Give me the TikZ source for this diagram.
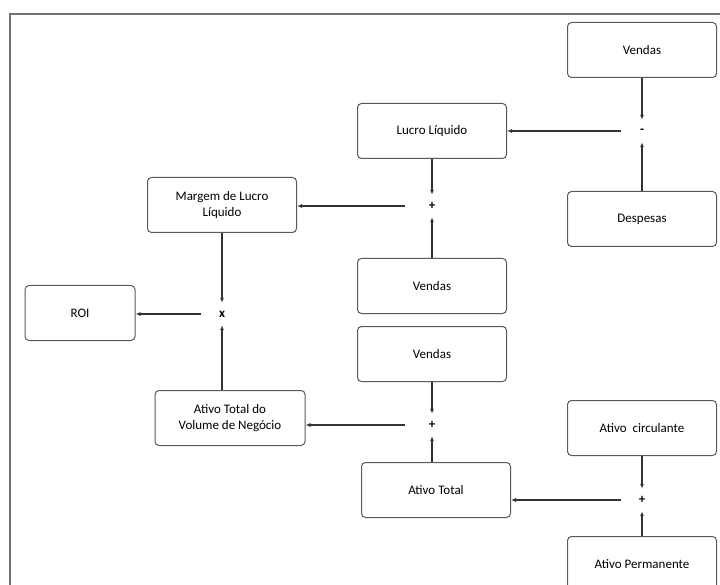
\documentclass[tikz,border=0pt]{standalone}
\usepackage{fontspec}
\setmainfont{Carlito}
\usetikzlibrary{arrows.meta}
\tikzset{
  caixa/.style={draw=black!65,line width=1pt,rounded corners=4pt,minimum width=149pt,minimum height=55pt,
    align=center,font=\fontsize{13}{16}\selectfont,inner sep=2pt},
  oper/.style={circle,minimum size=22pt,inner sep=0pt,font=\fontsize{13}{14}\selectfont\bfseries},
  seta/.style={-{Latex[length=5pt,width=4pt]},line width=1.3pt,black!80},
}
\begin{document}
\begin{tikzpicture}[x=1pt,y=-1pt]
  \useasboundingbox (0,0) rectangle (720,585);
  \draw[black!55,line width=1.2pt](10,14) rectangle (740,600);
  % caixas
  \node[caixa] (vendasA) at (642,50){Vendas};
  \node[caixa] (lucro) at (432,131){Lucro Líquido};
  \node[caixa] (despesas) at (642,219){Despesas};
  \node[caixa] (margem) at (222,205){Margem de Lucro\\Líquido};
  \node[caixa] (vendasB) at (432,286){Vendas};
  \node[caixa,minimum width=110pt] (roi) at (80,313){ROI};
  \node[caixa] (vendasC) at (432,354){Vendas};
  \node[caixa,minimum width=150pt] (giro) at (230,418){Ativo Total do\\Volume de Negócio};
  \node[caixa] (ativoT) at (436,490){Ativo Total};
  \node[caixa] (circ) at (642,428){Ativo\ \ circulante};
  \node[caixa] (perm) at (642,564){Ativo Permanente};
  % operadores
  \node[oper] (menos) at (642,131){-};
  \node[oper] (somaA) at (432,206){+};
  \node[oper] (vezes) at (222,314){x};
  \node[oper] (somaB) at (432,425){+};
  \node[oper] (somaC) at (642,500){+};
  % setas
  \draw[seta](vendasA)--(menos);
  \draw[seta](despesas)--(menos);
  \draw[seta,shorten <=10pt](menos)--(menos -| lucro.east);
  \draw[seta](lucro)--(somaA);
  \draw[seta](vendasB)--(somaA);
  \draw[seta,shorten <=16pt](somaA)--(somaA -| margem.east);
  \draw[seta](margem)--(vezes);
  \draw[seta](giro.north -| vezes)--(vezes);
  \draw[seta,shorten <=10pt](vezes)--(vezes -| roi.east);
  \draw[seta](vendasC)--(somaB);
  \draw[seta](ativoT.north -| somaB)--(somaB);
  \draw[seta,shorten <=16pt](somaB)--(somaB -| giro.east);
  \draw[seta](circ)--(somaC);
  \draw[seta](perm)--(somaC);
  \draw[seta,shorten <=10pt](somaC)--(somaC -| ativoT.east);
\end{tikzpicture}
\end{document}
